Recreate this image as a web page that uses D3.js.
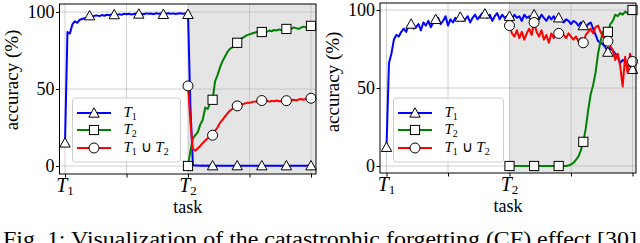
<!DOCTYPE html>
<html><head><meta charset="utf-8">
<script src="https://cdn.jsdelivr.net/npm/d3@7"></script>
<style>body{margin:0;background:#fff} svg{display:block}</style>
</head><body>
<svg id="c" width="640" height="243"></svg>
<script>
// ---------------- data ----------------
const sampleStep = 0.02;           // task progress between samples
const markerEvery = 10;            // a marker every 10 samples
const xTicks = [0, 0.5, 1, 1.5, 2];
const xTickSubs = ["1", "", "2", "", ""];   // labels T_1 , T_2
const yTicks = [0, 50, 100];
const seriesNames = ["T1", "T2", "T1uT2"];
const seriesColors = ["#0000ff", "#008000", "#ff0000"];
const seriesMarkers = ["triangle", "square", "circle"];
const captionText = "Fig. 1: Visualization of the catastrophic forgetting (CF) effect [30]";

// left panel (starts at x = 0 for T1, x = 1 for T2 and union)
const leftT1 = [15, 87, 86, 92, 94, 93, 95, 95.5, 96, 96.5, 97.6,
  97, 97.5, 97.8, 97.3, 98, 97.6, 98.2, 97.9, 98.4, 98.3,
  98, 98.6, 98.2, 98.8, 98.5, 98.9, 98.4, 98.7, 99, 98.7,
  98.9, 98.5, 99.1, 98.8, 99, 98.6, 99.2, 98.9, 99, 98.5,
  98.9, 99.2, 98.8, 99.1, 98.7, 99, 99.2, 98.8, 99.1, 98.5,
  38, 0.5, 0.3, 0.4, 0.2, 0.3, 0.2, 0.3, 0.2, 0.2,
  0.2, 0.2, 0.2, 0.2, 0.2, 0.2, 0.2, 0.2, 0.2, 0.2,
  0.2, 0.2, 0.2, 0.2, 0.2, 0.2, 0.2, 0.2, 0.2, 0.2,
  0.2, 0.2, 0.2, 0.2, 0.2, 0.2, 0.2, 0.2, 0.2, 0.2,
  0.2, 0.2, 0.2, 0.2, 0.2, 0.2, 0.2, 0.2, 0.2, 0.2];
const leftT2 = [0, 10, 18, 20, 22, 27, 30, 38, 37, 41, 43,
  55, 59, 64, 68, 71, 74, 76, 77, 79, 80,
  82, 83, 84, 85, 85.5, 86, 86.5, 87, 86.5, 87,
  87.5, 87, 88, 87.5, 88.3, 88, 88.7, 88.2, 89, 89,
  89.5, 89, 90, 89.5, 89, 89.8, 90.5, 90, 90.8, 91];
const leftU = [52, 28, 11, 10, 11.5, 13, 15, 16.5, 18, 19, 20,
  23, 25, 28, 30, 32, 34, 36, 37, 38.5, 39,
  39.5, 40, 40.5, 41, 41, 41.5, 41.8, 42, 41.7, 42.5,
  42, 42.4, 41.8, 42.3, 42, 42.5, 42, 42.2, 41.8, 42.4,
  42, 42.7, 43, 42.6, 43.2, 43.5, 43, 43.8, 43.5, 44];

// right panel
const rightT1 = [12, 66, 72, 81, 84, 83, 86, 88, 86, 90, 91,
  88, 89, 91, 87, 92, 90, 93, 89, 92, 94,
  95, 91, 93, 96, 90, 94, 92, 95, 93, 95.5,
  93, 94, 96, 92, 95, 97, 94, 96, 98, 97.5,
  95, 97, 93, 96, 98, 94, 97, 95, 96, 96,
  94, 97, 95, 96, 93, 97, 95, 96, 94, 97,
  96, 94, 97, 95, 93, 96, 94, 96, 93, 95,
  94, 92, 94, 93, 91, 93, 92, 90, 92, 90,
  89, 91, 92, 88, 84, 80, 79, 78, 76, 73,
  76, 74, 72, 70, 66, 68, 67, 63, 65, 62];
const rightT2 = [0, 0, 0, 0, 0, 0, 0, 0, 0, 0, 0,
  0, 0, 0, 0, 0, 0, 0, 0, 0, 0,
  0, 0, 0, 0.3, 1, 2, 4, 6, 10, 15.5,
  24, 36, 46, 52, 60, 72, 80, 86, 88, 86,
  91, 93, 97, 96, 98, 97, 99, 98, 99.5, 100];
const rightU = [90, 85, 83, 87, 82, 86, 81, 85, 88, 84, 92,
  86, 83, 87, 81, 84, 79, 85, 82, 86, 85,
  87, 84, 82, 85, 83, 81, 83, 80, 82, 79,
  84, 86, 88, 85, 89, 90, 86, 83, 81, 80,
  77, 74, 68, 72, 64, 51, 70, 60, 72, 67];

// ---------------- drawing ----------------
const svg = d3.select("#c");
const FONT = "'Liberation Serif', 'Times New Roman', serif";

function panel(cfg) {
  const x = d3.scaleLinear().domain([0, 2]).range([cfg.xT1, cfg.xEnd]);
  const y = d3.scaleLinear().domain([0, 100]).range([cfg.y0, cfg.y100]);
  const g = svg.append("g");
  const fl = cfg.frameL, fr = cfg.frameR, ft = cfg.frameT, fb = cfg.frameB;

  // shaded region after T2
  g.append("rect").attr("x", x(1)).attr("y", ft).attr("width", fr - x(1)).attr("height", fb - ft)
    .attr("fill", "#e5e5e5");

  // grid
  g.selectAll(".gx").data(xTicks).enter().append("line")
    .attr("x1", d => x(d)).attr("x2", d => x(d)).attr("y1", ft).attr("y2", fb)
    .attr("stroke", "#b0b0b0").attr("stroke-opacity", 0.6).attr("stroke-width", 1);
  g.selectAll(".gy").data(yTicks).enter().append("line")
    .attr("x1", fl).attr("x2", fr).attr("y1", d => y(d)).attr("y2", d => y(d))
    .attr("stroke", "#b0b0b0").attr("stroke-opacity", 0.6).attr("stroke-width", 1);

  // series
  const line = d3.line().x(d => x(d[0])).y(d => y(d[1]));
  cfg.series.forEach((s, k) => {
    const pts = s.values.map((v, i) => [s.start + i * sampleStep, v, i]);
    g.append("path").datum(pts).attr("d", line).attr("fill", "none")
      .attr("stroke", seriesColors[k]).attr("stroke-width", 2).attr("stroke-linejoin", "round");
    const mk = pts.filter(p => p[2] % markerEvery === 0);
    mk.forEach(p => drawMarker(g, seriesMarkers[k], x(p[0]), y(p[1])));
  });

  // frame
  g.append("rect").attr("x", fl).attr("y", ft).attr("width", fr - fl).attr("height", fb - ft)
    .attr("fill", "none").attr("stroke", "#000").attr("stroke-width", 1);

  // axes ticks
  const xa = d3.axisBottom(x).tickValues(xTicks).tickSize(3.5).tickFormat("");
  const xg = g.append("g").attr("transform", `translate(0,${fb})`).call(xa);
  xg.select(".domain").remove();
  xg.selectAll("line").attr("stroke", "#000");
  const ya = d3.axisLeft(y).tickValues(yTicks).tickSize(3.5).tickFormat("");
  const yg = g.append("g").attr("transform", `translate(${fl},0)`).call(ya);
  yg.select(".domain").remove();
  yg.selectAll("line").attr("stroke", "#000");

  // y tick labels
  yTicks.forEach(t => {
    g.append("text").attr("x", fl - 5).attr("y", y(t)).attr("dy", "0.35em")
      .attr("text-anchor", "end").attr("font-family", FONT).attr("font-size", 18)
      .text(t);
  });
  // x tick labels
  xTicks.forEach((t, i) => {
    if (!xTickSubs[i]) return;
    const tx = g.append("text").attr("x", x(t)).attr("y", fb + 18)
      .attr("text-anchor", "middle").attr("font-family", FONT).attr("font-size", 20);
    tx.append("tspan").attr("font-style", "italic").text("T");
    tx.append("tspan").attr("font-size", 13).attr("dy", 2.5).text(xTickSubs[i]);
  });
  // axis titles
  g.append("text").attr("x", (fl + fr) / 2).attr("y", fb + 39).attr("text-anchor", "middle")
    .attr("font-family", FONT).attr("font-size", 18).text("task");
  g.append("text").attr("transform", `translate(${cfg.ylabX},${cfg.ylabY}) rotate(-90)`)
    .attr("text-anchor", "middle").attr("font-family", FONT).attr("font-size", 19)
    .text("accuracy (%)");

  // legend
  const lx = cfg.legX, ly = 98;
  g.append("rect").attr("x", lx).attr("y", ly).attr("width", cfg.legW).attr("height", 64)
    .attr("rx", 3).attr("fill", "#fff").attr("fill-opacity", 0.8)
    .attr("stroke", "#cccccc").attr("stroke-width", 1);
  const rows = [113, 130, 148];
  seriesNames.forEach((n, k) => {
    const ry = rows[k];
    g.append("line").attr("x1", lx + 4.5).attr("x2", lx + 38.5).attr("y1", ry).attr("y2", ry)
      .attr("stroke", seriesColors[k]).attr("stroke-width", 2);
    drawMarker(g, seriesMarkers[k], lx + 21.5, ry);
    const t = g.append("text").attr("x", lx + 51).attr("y", ry + 4)
      .attr("font-family", FONT).attr("font-size", 15);
    if (k < 2) {
      t.append("tspan").attr("font-style", "italic").text("T");
      t.append("tspan").attr("font-size", 10).attr("dy", 3).text(String(k + 1));
    } else {
      t.append("tspan").attr("font-style", "italic").text("T");
      t.append("tspan").attr("font-size", 10).attr("dy", 3).text("1");
      t.append("tspan").attr("dy", -3).text(" \u222A ");
      t.append("tspan").attr("font-style", "italic").text("T");
      t.append("tspan").attr("font-size", 10).attr("dy", 3).text("2");
    }
  });
}

function drawMarker(g, type, cx, cy) {
  if (type === "triangle") {
    const s = 5.2;
    g.append("path").attr("d", `M${cx},${cy - s} L${cx + s},${cy + s * 0.8} L${cx - s},${cy + s * 0.8} Z`)
      .attr("fill", "#fff").attr("stroke", "#000").attr("stroke-width", 1);
  } else if (type === "square") {
    const s = 4.6;
    g.append("rect").attr("x", cx - s).attr("y", cy - s).attr("width", 2 * s).attr("height", 2 * s)
      .attr("fill", "#fff").attr("stroke", "#000").attr("stroke-width", 1);
  } else {
    g.append("circle").attr("cx", cx).attr("cy", cy).attr("r", 5)
      .attr("fill", "#fff").attr("stroke", "#000").attr("stroke-width", 1);
  }
}

panel({xT1: 65, xEnd: 311, frameL: 59.5, frameR: 316, y0: 166, y100: 12, frameT: 4, frameB: 174,
  ylabX: 18, ylabY: 80, legX: 72.5, legW: 108,
  series: [{values: leftT1, start: 0}, {values: leftT2, start: 1}, {values: leftU, start: 1}]});
panel({xT1: 386.5, xEnd: 632.5, frameL: 380, frameR: 636, y0: 166, y100: 10, frameT: 3, frameB: 173,
  ylabX: 339, ylabY: 82, legX: 393.5, legW: 110,
  series: [{values: rightT1, start: 0}, {values: rightT2, start: 1}, {values: rightU, start: 1}]});

svg.append("text").attr("x", 3).attr("y", 246).attr("font-family", FONT).attr("font-size", 20)
  .attr("textLength", 634).attr("lengthAdjust", "spacingAndGlyphs").text(captionText);
</script>
</body></html>
